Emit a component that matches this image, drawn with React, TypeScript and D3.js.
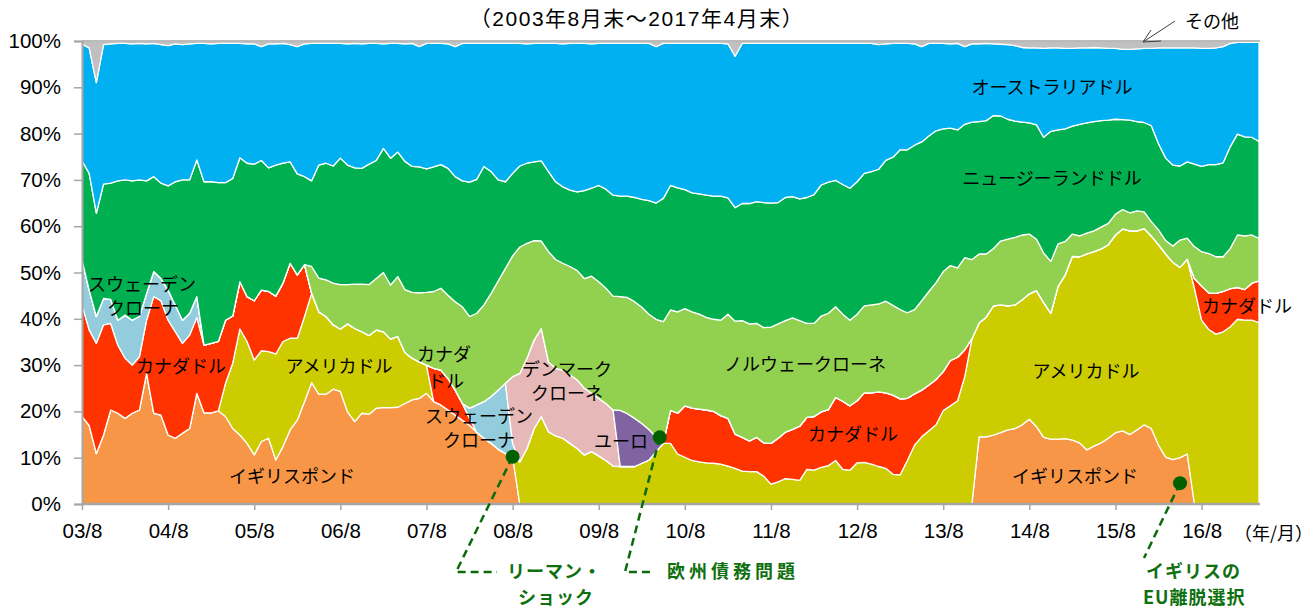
import React, { useEffect, useRef } from "react";
import * as d3 from "d3";

// monthly shares (%), 2003/08 .. 2017/04 (165 months)
const pound = [
  18.9, 17.0, 10.9, 14.9, 20.3, 19.6, 18.5, 19.6, 20.3, 28.2,
  19.6, 19.2, 14.9, 14.2, 15.3, 16.3, 23.9, 19.7, 19.7, 20.1,
  18.9, 16.3, 14.9, 13.1, 10.6, 13.5, 14.2, 9.5, 12.4, 16.0,
  18.1, 22.1, 26.2, 23.7, 23.7, 24.8, 24.3, 19.9, 17.8, 19.6,
  19.4, 20.7, 20.8, 20.8, 20.9, 21.7, 22.5, 22.8, 23.9, 22.1,
  21.4, 20.3, 19.2, 18.1, 17.0, 15.5, 14.2, 13.1, 11.8, 10.9,
  10.2, 0, 0, 0, 0, 0, 0, 0, 0, 0,
  0, 0, 0, 0, 0, 0, 0, 0, 0, 0,
  0, 0, 0, 0, 0, 0, 0, 0, 0, 0,
  0, 0, 0, 0, 0, 0, 0, 0, 0, 0,
  0, 0, 0, 0, 0, 0, 0, 0, 0, 0,
  0, 0, 0, 0, 0, 0, 0, 0, 0, 0,
  0, 0, 0, 0, 0, 14.5, 14.5, 14.9, 15.4, 16.0,
  16.3, 17.1, 18.3, 16.7, 14.4, 14.0, 14.0, 14.1, 13.8, 13.2,
  11.7, 12.5, 13.2, 14.2, 15.4, 15.8, 15.0, 16.0, 17.1, 16.3,
  12.7, 10.1, 9.6, 10.0, 10.8, 0, 0, 0, 0, 0,
  0, 0, 0, 0, 0,
];
const usd = [
  0, 0, 0, 0, 0, 0, 0, 0, 0, 0,
  0, 0, 0, 0, 0, 0, 0, 0, 0, 0,
  7.2, 14.1, 22.9, 22.0, 20.5, 19.6, 18.7, 22.9, 22.7, 19.8,
  17.7, 18.4, 19.3, 17.8, 16.8, 13.9, 13.5, 19.0, 20.1, 17.6,
  17.0, 16.9, 16.4, 14.8, 15.3, 11.0, 9.0, 7.9, 6.1, 0,
  0, 0, 0, 0, 0, 0, 0, 0, 0, 0,
  0, 9.1, 12.0, 16.3, 18.9, 15.6, 14.7, 14.2, 13.1, 12.0,
  10.6, 11.3, 10.4, 9.4, 8.2, 8.1, 8.1, 8.1, 8.8, 9.5,
  11.3, 13.1, 13.1, 10.8, 10.1, 9.4, 9.1, 8.9, 8.8, 8.6,
  8.2, 7.7, 7.1, 7.0, 7.0, 6.0, 4.3, 4.8, 5.5, 5.3,
  5.1, 7.5, 7.3, 7.9, 8.3, 9.4, 7.5, 7.3, 8.9, 9.0,
  8.6, 8.1, 7.7, 6.4, 6.3, 9.4, 12.7, 14.5, 15.8, 17.1,
  20.2, 21.2, 22.3, 27.5, 35.7, 24.6, 25.9, 27.9, 27.6, 26.8,
  26.7, 27.0, 27.1, 29.4, 29.1, 27.2, 33.0, 35.4, 39.7, 40.2,
  42.3, 42.0, 41.9, 41.8, 42.7, 43.6, 44.0, 43.0, 42.4, 41.6,
  43.3, 43.9, 42.6, 41.1, 42.1, 46.6, 39.7, 37.7, 36.7, 37.2,
  38.3, 39.9, 39.7, 39.7, 39.2,
];
const cad = [
  24.1, 20.6, 23.8, 23.8, 18.7, 14.7, 13.0, 10.4, 11.5, 11.5,
  25.2, 24.7, 24.8, 23.0, 19.4, 20.2, 16.4, 14.6, 15.0, 15.0,
  13.6, 10.2, 10.2, 9.7, 12.8, 13.1, 13.0, 12.5, 12.6, 16.2,
  13.7, 11.2, 0, 0, 0, 0, 0, 0, 0, 0,
  0, 0, 0, 0, 0, 0, 0, 0, 0, 7.2,
  7.5, 6.8, 5.4, 3.6, 1.5, 0, 0, 0, 0, 0,
  0, 0, 0, 0, 0, 0, 0, 0, 0, 0,
  0, 0, 0, 0, 0, 0, 0, 0, 0, 0,
  0, 0, 7.1, 8.8, 11.1, 11.3, 11.4, 11.4, 11.2, 10.5,
  10.3, 7.4, 7.3, 6.6, 7.4, 7.2, 8.8, 9.4, 10.0, 10.8,
  11.7, 11.2, 11.6, 12.0, 12.1, 13.6, 14.7, 13.9, 13.4, 15.0,
  15.4, 16.1, 16.3, 17.1, 16.4, 13.4, 11.1, 10.1, 9.9, 9.8,
  8.4, 9.8, 9.4, 5.8, 0, 0, 0, 0, 0, 0,
  0, 0, 0, 0, 0, 0, 0, 0, 0, 0,
  0, 0, 0, 0, 0, 0, 0, 0, 0, 0,
  0, 0, 0, 0, 0, 2.1, 7.4, 7.9, 8.8, 8.7,
  8.2, 6.9, 6.6, 8.0, 9.0,
];
const sek = [
  9.7, 8.6, 5.8, 5.7, 5.2, 5.4, 9.3, 9.7, 8.7, 5.8,
  5.4, 4.8, 6.5, 5.8, 5.0, 4.7, 4.5, 0, 0, 0,
  0, 0, 0, 0, 0, 0, 0, 0, 0, 0,
  0, 0, 0, 0, 0, 0, 0, 0, 0, 0,
  0, 0, 0, 0, 0, 0, 0, 0, 0, 0,
  0, 0, 0, 0, 2.2, 5.9, 7.9, 10.1, 12.8, 15.2,
  2.9, 0, 0, 0, 0, 0, 0, 0, 0, 0,
  0, 0, 0, 0, 0, 0, 0, 0, 0, 0,
  0, 0, 0, 0, 0, 0, 0, 0, 0, 0,
  0, 0, 0, 0, 0, 0, 0, 0, 0, 0,
  0, 0, 0, 0, 0, 0, 0, 0, 0, 0,
  0, 0, 0, 0, 0, 0, 0, 0, 0, 0,
  0, 0, 0, 0, 0, 0, 0, 0, 0, 0,
  0, 0, 0, 0, 0, 0, 0, 0, 0, 0,
  0, 0, 0, 0, 0, 0, 0, 0, 0, 0,
  0, 0, 0, 0, 0, 0, 0, 0, 0, 0,
  0, 0, 0, 0, 0,
];
const dkk = [
  0, 0, 0, 0, 0, 0, 0, 0, 0, 0,
  0, 0, 0, 0, 0, 0, 0, 0, 0, 0,
  0, 0, 0, 0, 0, 0, 0, 0, 0, 0,
  0, 0, 0, 0, 0, 0, 0, 0, 0, 0,
  0, 0, 0, 0, 0, 0, 0, 0, 0, 0,
  0, 0, 0, 0, 0, 0, 0, 0, 0, 0,
  14.4, 19.1, 19.5, 19.1, 19.0, 15.1, 14.6, 14.7, 14.8, 14.8,
  14.4, 12.6, 12.4, 12.3, 12.1, 0, 0, 0, 0, 0,
  0, 0, 0, 0, 0, 0, 0, 0, 0, 0,
  0, 0, 0, 0, 0, 0, 0, 0, 0, 0,
  0, 0, 0, 0, 0, 0, 0, 0, 0, 0,
  0, 0, 0, 0, 0, 0, 0, 0, 0, 0,
  0, 0, 0, 0, 0, 0, 0, 0, 0, 0,
  0, 0, 0, 0, 0, 0, 0, 0, 0, 0,
  0, 0, 0, 0, 0, 0, 0, 0, 0, 0,
  0, 0, 0, 0, 0, 0, 0, 0, 0, 0,
  0, 0, 0, 0, 0,
];
const eur = [
  0, 0, 0, 0, 0, 0, 0, 0, 0, 0,
  0, 0, 0, 0, 0, 0, 0, 0, 0, 0,
  0, 0, 0, 0, 0, 0, 0, 0, 0, 0,
  0, 0, 0, 0, 0, 0, 0, 0, 0, 0,
  0, 0, 0, 0, 0, 0, 0, 0, 0, 0,
  0, 0, 0, 0, 0, 0, 0, 0, 0, 0,
  0, 0, 0, 0, 0, 0, 0, 0, 0, 0,
  0, 0, 0, 0, 0, 12.1, 11.4, 10.4, 8.6, 6.6,
  3.1, 0, 0, 0, 0, 0, 0, 0, 0, 0,
  0, 0, 0, 0, 0, 0, 0, 0, 0, 0,
  0, 0, 0, 0, 0, 0, 0, 0, 0, 0,
  0, 0, 0, 0, 0, 0, 0, 0, 0, 0,
  0, 0, 0, 0, 0, 0, 0, 0, 0, 0,
  0, 0, 0, 0, 0, 0, 0, 0, 0, 0,
  0, 0, 0, 0, 0, 0, 0, 0, 0, 0,
  0, 0, 0, 0, 0, 0, 0, 0, 0, 0,
  0, 0, 0, 0, 0,
];
const nok = [
  0, 0, 0, 0, 0, 0, 0, 0, 0, 0,
  0, 0, 0, 0, 0, 0, 0, 0, 0, 0,
  0, 0, 0, 0, 0, 0, 0, 0, 0, 0,
  0, 0, 5.8, 7.3, 7.9, 9.0, 9.6, 8.5, 9.6, 10.3,
  11.0, 11.1, 12.8, 11.7, 12.9, 13.6, 14.2, 14.9, 15.7, 16.6,
  17.7, 18.0, 19.1, 20.9, 19.8, 19.8, 20.9, 22.3, 23.6, 24.8,
  26.1, 27.3, 24.8, 21.5, 18.9, 23.8, 23.5, 23.1, 23.4, 23.6,
  23.7, 25.3, 25.2, 24.9, 24.6, 24.6, 25.1, 25.2, 25.1, 24.9,
  25.5, 26.3, 21.7, 21.9, 21.0, 20.8, 20.5, 20.0, 19.9, 20.6,
  22.5, 24.4, 25.2, 25.3, 24.6, 24.9, 25.1, 24.7, 24.1, 24.1,
  22.8, 20.3, 20.1, 20.7, 20.8, 19.6, 18.8, 18.5, 18.7, 18.8,
  19.0, 19.0, 19.8, 19.4, 19.3, 18.5, 18.2, 19.3, 20.2, 20.9,
  21.6, 20.5, 19.3, 19.9, 17.1, 14.9, 13.6, 12.4, 13.8, 14.4,
  14.6, 14.0, 12.9, 11.1, 10.7, 11.2, 9.2, 7.2, 4.8, 4.5,
  4.5, 4.5, 4.7, 4.6, 4.5, 4.2, 3.9, 4.3, 3.6, 3.1,
  3.2, 2.9, 3.5, 5.9, 4.5, 6.9, 7.4, 8.5, 7.9, 7.5,
  8.7, 11.3, 11.6, 10.4, 9.2,
];
const nzd = [
  21.4, 25.2, 22.3, 24.7, 25.1, 30.1, 29.2, 30.1, 29.5, 24.3,
  20.5, 20.6, 22.5, 26.6, 30.3, 28.8, 29.5, 35.3, 34.9, 34.3,
  29.7, 29.7, 26.8, 28.8, 29.5, 28.0, 26.7, 28.3, 25.9, 21.9,
  21.8, 19.0, 18.5, 24.4, 25.2, 25.3, 27.3, 25.8, 25.1, 25.0,
  26.0, 25.5, 26.8, 27.4, 26.9, 27.7, 27.2, 27.2, 26.7, 26.9,
  26.7, 27.4, 27.0, 27.2, 29.0, 28.9, 29.9, 26.3, 21.8, 18.7,
  17.8, 17.5, 17.3, 17.0, 17.3, 17.3, 16.8, 16.5, 16.5, 17.0,
  19.0, 19.0, 20.8, 21.4, 21.8, 21.7, 21.9, 22.5, 23.3, 24.5,
  25.1, 26.6, 26.9, 26.8, 25.7, 25.7, 26.0, 26.4, 26.6, 26.8,
  25.1, 24.5, 25.3, 26.0, 26.3, 27.0, 26.8, 26.2, 26.6, 26.2,
  26.3, 27.2, 27.8, 28.3, 28.3, 27.3, 28.0, 28.5, 28.6, 28.6,
  28.8, 29.1, 30.4, 32.0, 34.5, 35.2, 35.5, 34.3, 33.6, 32.8,
  30.8, 29.7, 29.8, 28.8, 29.7, 28.6, 28.8, 28.7, 27.0, 25.9,
  25.1, 24.4, 24.0, 24.7, 25.0, 28.1, 24.6, 24.3, 23.3, 24.1,
  23.8, 23.6, 23.0, 22.3, 20.5, 19.4, 20.0, 19.3, 19.3, 20.7,
  18.6, 17.8, 17.5, 16.0, 16.5, 17.8, 18.4, 19.2, 19.9, 20.3,
  22.0, 21.8, 21.4, 21.1, 20.9,
];
const aud = [
  25.2, 27.1, 28.2, 30.1, 30.1, 29.7, 29.5, 29.6, 29.5, 29.6,
  28.8, 29.9, 30.3, 29.8, 29.2, 29.4, 25.2, 29.9, 29.8, 30.1,
  30.1, 29.2, 24.7, 25.8, 26.0, 24.6, 26.8, 26.2, 25.9, 25.3,
  27.5, 28.7, 29.7, 26.3, 25.9, 26.5, 24.8, 26.2, 26.9, 26.9,
  26.1, 25.3, 22.6, 24.8, 23.5, 25.4, 26.6, 26.0, 27.1, 26.7,
  26.2, 26.9, 28.1, 29.7, 30.0, 29.4, 26.6, 27.7, 29.5, 29.9,
  28.1, 26.5, 25.8, 25.6, 25.4, 27.7, 29.9, 30.9, 31.7, 32.1,
  31.8, 31.2, 30.7, 31.5, 32.8, 33.0, 33.0, 33.3, 33.7, 34.0,
  33.8, 33.5, 30.7, 31.2, 31.6, 32.3, 32.5, 32.8, 33.0, 33.0,
  33.3, 32.7, 34.6, 34.6, 34.2, 34.4, 34.5, 34.4, 33.3, 33.1,
  33.6, 33.3, 32.7, 30.6, 30.0, 29.6, 30.5, 31.3, 29.9, 28.1,
  27.7, 26.9, 25.2, 24.6, 23.0, 23.0, 21.9, 20.6, 20.0, 18.9,
  18.5, 18.2, 18.7, 16.8, 16.9, 16.8, 16.7, 15.5, 15.5, 16.1,
  16.3, 16.1, 16.2, 16.6, 19.2, 18.0, 17.7, 17.4, 16.8, 16.5,
  16.2, 16.0, 15.7, 15.5, 15.3, 15.2, 15.3, 15.7, 16.0, 16.7,
  20.7, 23.8, 25.3, 25.5, 24.6, 25.1, 25.5, 25.1, 25.2, 25.1,
  22.3, 19.8, 20.4, 20.5, 21.4,
];
const other = [
  0.7, 1.5, 9.0, 0.8, 0.6, 0.5, 0.5, 0.6, 0.5, 0.6,
  0.5, 0.8, 1.0, 0.6, 0.8, 0.6, 0.5, 0.5, 0.6, 0.5,
  0.5, 0.5, 0.5, 0.6, 0.6, 1.2, 0.6, 0.6, 0.5, 0.8,
  1.2, 0.6, 0.5, 0.5, 0.5, 0.5, 0.5, 0.6, 0.5, 0.6,
  0.5, 0.5, 0.6, 0.5, 0.5, 0.6, 0.5, 1.2, 0.5, 0.5,
  0.5, 0.6, 1.2, 0.5, 0.5, 0.5, 0.5, 0.5, 0.5, 0.5,
  0.5, 0.5, 0.6, 0.5, 0.5, 0.5, 0.5, 0.6, 0.5, 0.5,
  0.5, 0.6, 0.5, 0.5, 0.5, 0.5, 0.5, 0.5, 0.5, 0.5,
  1.2, 0.5, 0.5, 0.5, 0.5, 0.5, 0.5, 0.5, 0.5, 0.5,
  0.6, 3.3, 0.5, 0.5, 0.5, 0.5, 0.5, 0.5, 0.5, 0.5,
  0.5, 0.5, 0.5, 0.5, 0.5, 0.5, 0.5, 0.5, 0.5, 0.5,
  0.5, 0.8, 0.6, 0.5, 0.5, 0.5, 0.6, 1.2, 0.5, 0.5,
  0.5, 0.6, 0.5, 1.2, 0.6, 0.6, 0.5, 0.6, 0.7, 0.8,
  1.0, 1.4, 1.5, 1.5, 1.6, 1.5, 1.5, 1.6, 1.6, 1.5,
  1.5, 1.4, 1.5, 1.6, 1.6, 1.8, 1.8, 1.7, 1.6, 1.6,
  1.5, 1.5, 1.5, 1.5, 1.5, 1.5, 1.6, 1.6, 1.5, 1.2,
  0.5, 0.3, 0.3, 0.3, 0.3,
];

const series = { pound, usd, cad, sek, dkk, eur, nok, nzd, aud, other };
const keys = ["pound", "usd", "cad", "sek", "dkk", "eur", "nok", "nzd", "aud", "other"];
const colors = {
  pound: "#F79646",
  usd: "#CCCC00",
  cad: "#FF3300",
  sek: "#93CDDD",
  dkk: "#E6B9B8",
  eur: "#8064A2",
  nok: "#92D050",
  nzd: "#00B050",
  aud: "#00B0F0",
  other: "#C0C0C0",
};

const xTickLabels = ["03/8", "04/8", "05/8", "06/8", "07/8", "08/8", "09/8", "10/8", "11/8", "12/8", "13/8", "14/8", "15/8", "16/8"];
const yTickValues = [0, 0.1, 0.2, 0.3, 0.4, 0.5, 0.6, 0.7, 0.8, 0.9, 1];

// area labels (pixel centres)
const areaLabels = [
  { text: "オーストラリアドル", x: 1052, y: 86 },
  { text: "ニュージーランドドル", x: 1052, y: 177 },
  { text: "スウェーデン", x: 142, y: 283 },
  { text: "クローナ", x: 143, y: 307 },
  { text: "カナダドル", x: 181, y: 365 },
  { text: "アメリカドル", x: 339, y: 365 },
  { text: "イギリスポンド", x: 292, y: 475 },
  { text: "カナダ", x: 444, y: 353 },
  { text: "ドル", x: 446, y: 380 },
  { text: "スウェーデン", x: 479, y: 415 },
  { text: "クローナ", x: 479, y: 439 },
  { text: "デンマーク", x: 567, y: 368 },
  { text: "クローネ", x: 567, y: 392 },
  { text: "ユーロ", x: 621, y: 440 },
  { text: "ノルウェークローネ", x: 805, y: 363 },
  { text: "カナダドル", x: 853, y: 433 },
  { text: "アメリカドル", x: 1086, y: 370 },
  { text: "イギリスポンド", x: 1075, y: 475 },
  { text: "カナダドル", x: 1247, y: 305 },
];

// event markers: month index and share level of the dot
const events = [
  { idx: 60, level: 0.102, lines: ["リーマン・", "ショック"], path: "L456,572 L497,572", tx: [507, 518], spacing: 1 },
  { idx: 80.5, level: 0.144, lines: ["欧州債務問題"], path: "L625,572 L653,572", tx: [667], spacing: 4 },
  { idx: 153, level: 0.045, lines: ["イギリスの", "EU離脱選択"], path: "L1144,558", tx: [1146, 1143], spacing: 1 },
];

const FONT = "'Liberation Sans', Arial, 'Noto Sans CJK JP', sans-serif";
const JFONT = "'Noto Sans CJK JP', sans-serif";

function App() {
  const svgRef = useRef(null);

  useEffect(() => {
    const svg = d3.select(svgRef.current);
    svg.selectAll("*").remove();

    const n = pound.length;
    const data = pound.map((_, i) => {
      const row: any = { i };
      keys.forEach((k) => (row[k] = series[k][i]));
      return row;
    });

    const x = d3.scaleLinear().domain([0, n - 1]).range([82, 1259]);
    const y = d3.scaleLinear().domain([0, 1]).range([504, 41]);

    const layers = d3.stack().keys(keys).offset(d3.stackOffsetExpand)(data);

    const area = d3
      .area()
      .x((d: any) => x(d.data.i))
      .y0((d: any) => y(d[0]))
      .y1((d: any) => y(d[1]));

    svg
      .append("g")
      .selectAll("path")
      .data(layers)
      .join("path")
      .attr("fill", (l: any) => colors[l.key])
      .attr("stroke", "#fff")
      .attr("stroke-width", 1.3)
      .attr("stroke-linejoin", "round")
      .attr("d", area as any);

    // frame: top line
    svg.append("line").attr("x1", 82).attr("x2", 1260).attr("y1", 41).attr("y2", 41)
      .attr("stroke", "#a6a6a6").attr("stroke-width", 1.5);

    // axes
    const yAxis = d3.axisLeft(y).tickValues(yTickValues).tickFormat(d3.format(".0%")).tickSize(8).tickPadding(13);
    const gy = svg.append("g").attr("transform", "translate(82,0)").call(yAxis);
    gy.select(".domain").attr("stroke", "#a6a6a6").attr("stroke-width", 2);
    gy.selectAll(".tick line").attr("stroke", "#a6a6a6").attr("stroke-width", 1.5);
    gy.selectAll("text").attr("font-family", FONT).attr("font-size", 20.5).attr("fill", "#000");

    const xAxis = d3
      .axisBottom(x)
      .tickValues(xTickLabels.map((_, k) => k * 12))
      .tickFormat((_, k) => xTickLabels[k])
      .tickSize(6)
      .tickSizeOuter(0)
      .tickPadding(13);
    const gx = svg.append("g").attr("transform", "translate(0,504)").call(xAxis);
    gx.select(".domain").attr("stroke", "#a6a6a6").attr("stroke-width", 2.5).attr("d", "M82,0H1260");
    gx.selectAll(".tick line").attr("stroke", "#a6a6a6").attr("stroke-width", 1.5);
    gx.selectAll("text").attr("font-family", FONT).attr("font-size", 20.5).attr("fill", "#000");

    svg.append("text").attr("x", 1313).attr("y", 532).attr("text-anchor", "end")
      .attr("dominant-baseline", "central").attr("font-family", JFONT).attr("font-size", 18)
      .text("（年/月）");

    // title
    svg.append("text").attr("x", 637).attr("y", 18).attr("text-anchor", "middle")
      .attr("dominant-baseline", "central").attr("font-family", FONT).attr("font-size", 21)
      .attr("letter-spacing", 1.5)
      .text("（2003年8月末～2017年4月末）");

    // その他 pointer
    svg.append("path").attr("d", "M1175,21 L1143,42 M1143,42 L1161,41 M1143,42 L1151,30")
      .attr("stroke", "#404040").attr("stroke-width", 1).attr("fill", "none");
    svg.append("text").attr("x", 1212).attr("y", 20).attr("text-anchor", "middle")
      .attr("dominant-baseline", "central").attr("font-family", JFONT).attr("font-size", 18)
      .text("その他");

    // area labels
    svg.append("g").selectAll("text").data(areaLabels).join("text")
      .attr("x", (d) => d.x).attr("y", (d) => d.y)
      .attr("text-anchor", "middle").attr("dominant-baseline", "central")
      .attr("font-family", JFONT).attr("font-size", 18).attr("fill", "#000")
      .text((d) => d.text);

    // events
    const ev = svg.append("g");
    events.forEach((e) => {
      const cx = x(e.idx);
      const cy = y(e.level);
      ev.append("path").attr("d", `M${cx},${cy} ${e.path}`)
        .attr("stroke", "#0a6a0a").attr("stroke-width", 2.5).attr("stroke-dasharray", "8,5")
        .attr("fill", "none");
      ev.append("circle").attr("cx", cx).attr("cy", cy).attr("r", 7).attr("fill", "#006000");
      e.lines.forEach((t, k) => {
        ev.append("text").attr("x", e.tx[k]).attr("y", 570 + k * 26)
          .attr("dominant-baseline", "central").attr("font-family", JFONT)
          .attr("font-size", 18).attr("font-weight", "bold").attr("fill", "#0e700e")
          .attr("letter-spacing", e.spacing)
          .text(t);
      });
    });
  }, []);

  return (
    <svg
      ref={svgRef}
      width={1316}
      height={610}
      style={{ position: "absolute", left: 0, top: 0, background: "#fff" }}
    />
  );
}

export default App;
